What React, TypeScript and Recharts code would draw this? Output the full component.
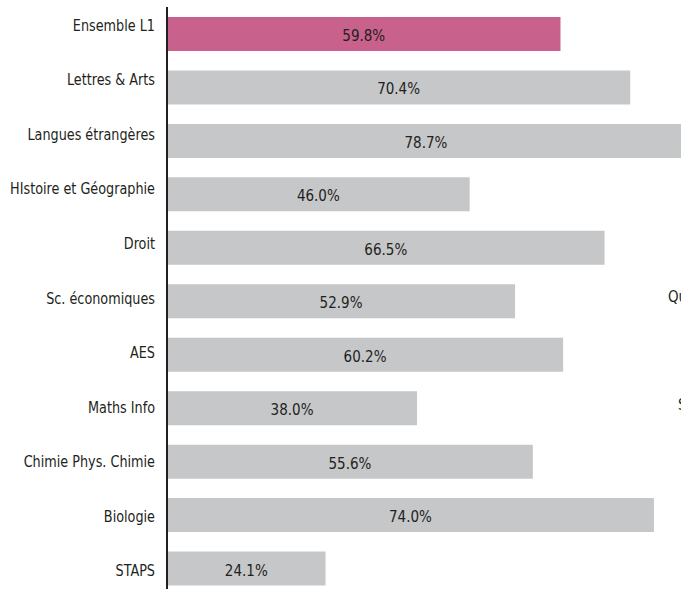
import { BarChart, Bar, XAxis, YAxis, Cell, LabelList } from 'recharts';

const categories = [
  'Ensemble L1',
  'Lettres & Arts',
  'Langues étrangères',
  'HIstoire et Géographie',
  'Droit',
  'Sc. économiques',
  'AES',
  'Maths Info',
  'Chimie Phys. Chimie',
  'Biologie',
  'STAPS',
];
const values = [59.8, 70.4, 78.7, 46.0, 66.5, 52.9, 60.2, 38.0, 55.6, 74.0, 24.1];
const highlight = 'Ensemble L1';

const data = categories.map((name, i) => ({ name, value: values[i] }));

const FONT = '"DejaVu Sans Condensed", "Liberation Sans Narrow", sans-serif';
const INK = '#231f20';

// condensed category labels, right-aligned next to the axis
const CategoryTick = (props: any) => {
  const { x, y, payload, index } = props;
  return (
    <g transform={`translate(${x - 4},${y - 3 + index * 1.1}) scale(0.95,1)`}>
      <text x={0} y={0} textAnchor="end" fontFamily={FONT} fontSize={15} fill={INK}>
        {payload.value}
      </text>
    </g>
  );
};

const renderValue = (props: any) => {
  const { x, y, width, height, value } = props;
  return (
    <text x={x + width / 2} y={y + height / 2 + 7} textAnchor="middle" fontFamily={FONT} fontSize={15} fill={INK}>
      {Number(value).toFixed(1)}%
    </text>
  );
};

export default function App() {
  return (
    <div style={{ position: 'fixed', left: 0, top: 0, width: 681, height: 589, overflow: 'hidden', background: '#fff' }}>
      <BarChart
        width={825}
        height={595}
        data={data}
        layout="vertical"
        margin={{ top: 7, right: 0, bottom: 0, left: 0 }}
      >
        <XAxis type="number" domain={[0, 100]} hide />
        <YAxis
          type="category"
          dataKey="name"
          width={167}
          axisLine={{ stroke: INK, strokeWidth: 2 }}
          tickLine={false}
          tick={<CategoryTick />}
          interval={0}
        />
        <Bar dataKey="value" barSize={34} isAnimationActive={false}>
          {data.map((d) => (
            <Cell key={d.name} fill={d.name === highlight ? '#c8618b' : '#c6c7c9'} />
          ))}
          <LabelList dataKey="value" content={renderValue} />
        </Bar>
      </BarChart>
      <div style={{ position: 'absolute', left: 668, top: 288, fontFamily: FONT, fontSize: 15, color: INK, whiteSpace: 'nowrap' }}>
        Qu
      </div>
      <div style={{ position: 'absolute', left: 678, top: 396, fontFamily: FONT, fontSize: 15, color: INK, whiteSpace: 'nowrap' }}>
        S
      </div>
    </div>
  );
}
